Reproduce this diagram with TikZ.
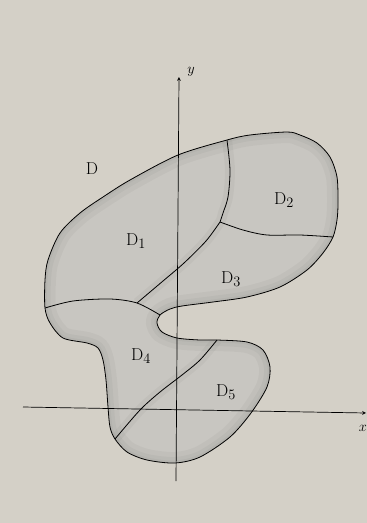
\documentclass[tikz,border=0pt]{standalone}
\usetikzlibrary{arrows}
\definecolor{paper}{RGB}{212,208,199}
\definecolor{pencil}{RGB}{200,198,193}
\newcommand{\outlineD}{plot[smooth cycle, tension=0.5] coordinates {
  (227,140) (250,135) (287,132) (300,135) (317,143) (330,157) (337,177) (338,203)
  (337,220) (333,237) (323,253) (307,270) (280,287) (247,297) (213,302) (182,306)
  (170,309) (160,315) (157,323) (162,332) (177,338) (200,340) (217,340) (247,342)
  (263,350) (270,367) (267,387) (251,413) (230,437) (200,457) (175,463) (147,460)
  (127,452) (115,439) (110,427) (108,407) (106,380) (103,360) (98,348) (87,343)
  (63,338) (50,323) (45,308) (45,280) (48,260) (60,233) (80,213) (103,197)
  (130,180) (178,155)}}
\begin{document}
\begin{tikzpicture}[x=1pt, y=-1pt, line width=0.8pt,
  lbl/.style={font=\fontsize{19}{19}\selectfont},
  axlbl/.style={font=\fontsize{14}{14}\selectfont},
  shade/.style={black, opacity=0.03}]
  \useasboundingbox (0,0) rectangle (367,523);
  \fill[paper] (0,0) rectangle (367,523);
  \fill[pencil] \outlineD;
  % pencil shading along the edges
  \begin{scope}
    \clip \outlineD;
    \draw[shade, line width=22pt] \outlineD;
    \draw[shade, line width=12pt] \outlineD;
    \draw[shade, line width=5pt] \outlineD;
    \draw[shade, line width=10pt] plot[smooth] coordinates {(217,340) (200,360) (182,375) (160,392) (140,410) (115,439)};
    \draw[shade, line width=10pt] plot[smooth] coordinates {(227,140) (230,170) (228,197) (223,213) (220,222) (206,241) (184,263) (163,281) (137,303)};
  \end{scope}
  % axes
  \draw[->, >=stealth, line width=0.7pt] (23,407) -- (366,413);
  \draw[->, >=stealth, line width=0.7pt] (176,481) -- (179,77);
  \node[axlbl] (ylab) at (191,72) {$y$};
  \node[axlbl] (xlab) at (363,428) {$x$};
  % region and its parts
  \draw \outlineD;
  \draw plot[smooth] coordinates {(227,140) (230,170) (228,197) (223,213) (220,222)};
  \draw plot[smooth] coordinates {(220,222) (243,230) (267,235) (300,235) (333,237)};
  \draw plot[smooth] coordinates {(220,222) (206,241) (184,263) (163,281) (137,303)};
  \draw plot[smooth] coordinates {(45,308) (73,301) (110,299) (137,303) (160,315)};
  \draw plot[smooth] coordinates {(217,340) (200,360) (182,375) (160,392) (140,410) (115,439)};
  \node[lbl] (D) at (92,169) {$\mathrm{D}$};
  \node[lbl] (D1) at (136,241) {$\mathrm{D}_1$};
  \node[lbl] (D2) at (284,200) {$\mathrm{D}_2$};
  \node[lbl] (D3) at (231,279) {$\mathrm{D}_3$};
  \node[lbl] (D4) at (141,356) {$\mathrm{D}_4$};
  \node[lbl] (D5) at (226,392) {$\mathrm{D}_5$};
\end{tikzpicture}
\end{document}
